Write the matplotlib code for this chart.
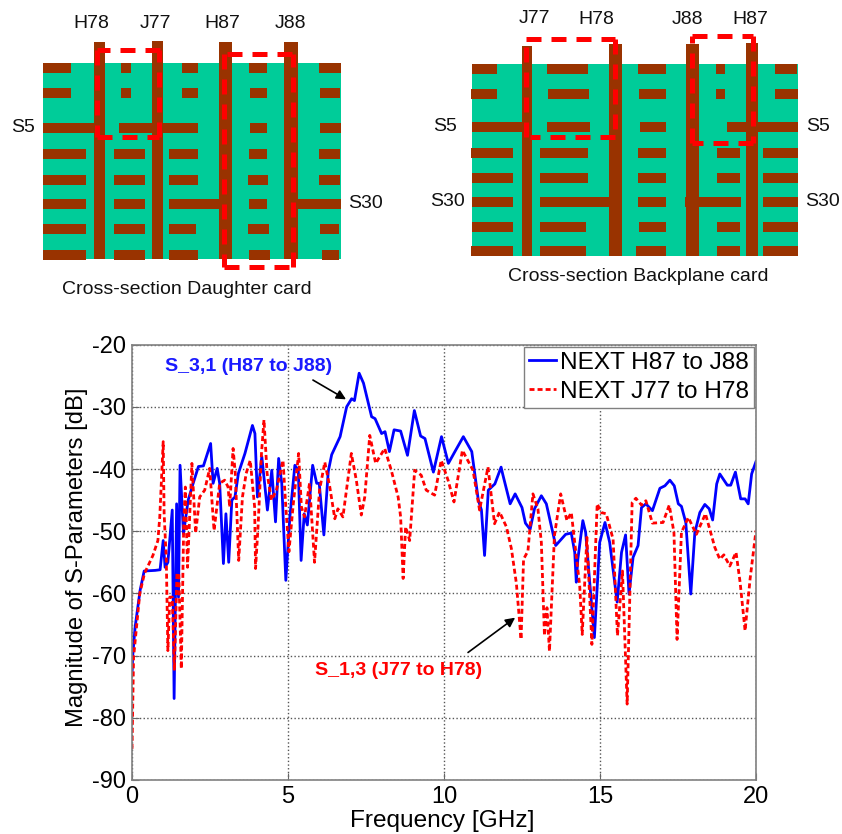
#!/usr/bin/env python
# -*- coding: utf-8 -*-

import matplotlib
matplotlib.use('Agg')
import matplotlib.pyplot as plt
from matplotlib.patches import Rectangle

plt.rcParams['font.family'] = ['Liberation Sans', 'DejaVu Sans']
plt.rcParams['axes.unicode_minus'] = False

W, H = 842, 834
GREEN = '#00cc99'
BROWN = '#993300'
RED = '#ff0000'

# traces: (GHz, dB)
h87_j88_f = [0.0, 0.02, 0.1, 0.26, 0.39, 0.74, 0.9, 1.0, 1.06, 1.15, 1.29, 1.35, 1.43, 1.49, 1.54,
             1.65, 1.8, 1.96, 2.13, 2.29, 2.52, 2.6, 2.73, 2.81, 2.93, 3.01, 3.1, 3.2, 3.3, 3.41,
             3.62, 3.86, 3.94, 4.02, 4.16, 4.34, 4.48, 4.6, 4.7, 4.8, 4.93, 5.06, 5.22, 5.33, 5.42,
             5.52, 5.62, 5.79, 5.92, 6.0, 6.15, 6.29, 6.4, 6.67, 6.88, 7.04, 7.13, 7.28, 7.42,
             7.68, 7.79, 8.0, 8.11, 8.25, 8.4, 8.61, 8.83, 9.05, 9.25, 9.39, 9.66, 9.92, 10.14,
             10.35, 10.62, 10.89, 11.1, 11.2, 11.3, 11.42, 11.63, 11.83, 11.88, 12.12, 12.28, 12.5,
             12.61, 12.76, 12.9, 13.12, 13.28, 13.58, 13.9, 14.08, 14.19, 14.24, 14.29, 14.45,
             14.54, 14.67, 14.82, 14.94, 14.99, 15.16, 15.31, 15.55, 15.69, 15.82, 15.93, 16.06,
             16.22, 16.33, 16.47, 16.68, 16.92, 17.08, 17.24, 17.38, 17.51, 17.61, 17.75, 17.91,
             18.04, 18.2, 18.36, 18.5, 18.61, 18.74, 18.84, 19.08, 19.19, 19.34, 19.51, 19.65,
             19.75, 19.86, 20.0]
h87_j88_db = [-73, -70.2, -65.4, -59.5, -56.4, -56.3, -56.2, -51.5, -55.8, -55, -46.6, -76.9, -45.6,
              -60.6, -39.4, -50.4, -45, -42.3, -39.6, -39.5, -35.9, -42.3, -39.9, -42.3, -55.2,
              -47.2, -55, -45, -44.5, -40.7, -37.5, -33, -34.3, -44.5, -38, -46.6, -40.2, -48.5,
              -38.3, -42.3, -57.9, -47.7, -39.4, -40.2, -54.7, -47.2, -49, -39.4, -42.3, -42.3,
              -50.6, -40.4, -37.7, -34.8, -30, -28.7, -29, -24.6, -26.2, -31.6, -31.9, -34.3, -34,
              -37.2, -33.7, -33.9, -37.8, -30.6, -34.7, -35.1, -40.5, -34.8, -39.1, -37.2, -34.8,
              -37.2, -45, -46.6, -53.9, -43.4, -42.4, -39.7, -40.8, -45.6, -44, -46.2, -48.7,
              -49.7, -46.4, -44.3, -45.6, -52.3, -50.5, -50.3, -53.4, -58.2, -54.5, -48.3, -50.2,
              -58.2, -67.1, -56.1, -51.8, -48.6, -51.8, -61.4, -53.4, -50.6, -60.1, -54.2, -52.3,
              -46.2, -45.6, -46.7, -43.1, -42.7, -41.8, -42.7, -45.6, -46, -48.6, -60.1, -50.2,
              -47, -45.7, -46.4, -48.2, -42.4, -40.8, -42.6, -42.6, -40.5, -44.8, -44.8, -45.6,
              -40.8, -38.8]

j77_h78_f = [0.0, 0.05, 0.25, 0.4, 0.67, 0.83, 0.89, 1.0, 1.03, 1.1, 1.15, 1.21, 1.29, 1.36, 1.44,
             1.5, 1.58, 1.66, 1.71, 1.78, 1.92, 2.04, 2.17, 2.33, 2.49, 2.63, 2.81, 2.97, 3.08,
             3.13, 3.24, 3.31, 3.42, 3.54, 3.66, 3.79, 3.93, 3.96, 4.04, 4.15, 4.23, 4.33, 4.47,
             4.63, 4.84, 4.93, 5.03, 5.16, 5.34, 5.43, 5.53, 5.69, 5.85, 6.01, 6.18, 6.34, 6.5,
             6.6, 6.76, 7.03, 7.19, 7.35, 7.46, 7.62, 7.81, 8.1, 8.31, 8.53, 8.61, 8.69, 8.77,
             8.9, 9.06, 9.27, 9.43, 9.7, 9.91, 10.13, 10.32, 10.59, 10.93, 11.14, 11.41, 11.62,
             11.78, 12.0, 12.16, 12.32, 12.47, 12.55, 12.69, 12.85, 13.01, 13.12, 13.22, 13.3,
             13.38, 13.54, 13.74, 13.94, 14.08, 14.35, 14.43, 14.58, 14.74, 14.91, 15.04, 15.2,
             15.42, 15.56, 15.72, 15.87, 16.03, 16.15, 16.33, 16.47, 16.68, 17.02, 17.22, 17.37,
             17.47, 17.61, 17.83, 18.09, 18.38, 18.68, 18.84, 18.97, 19.16, 19.36, 19.49, 19.65,
             19.81, 20.0]
j77_h78_db = [-85, -70.3, -60, -56.8, -53.9, -51.5, -47.7, -35.6, -47.2, -54.7, -69.2, -60.6, -60.6,
              -72.4, -56.8, -56.8, -72.1, -48.2, -42.9, -55.8, -39.1, -50.3, -44.5, -43.4, -39.9,
              -49.9, -42.3, -41.8, -42.9, -46.1, -36.7, -40.7, -54.7, -44.5, -40.7, -38.6, -46.1,
              -56, -49.3, -37.5, -32.1, -40.7, -45, -43.4, -38.6, -46.1, -53.3, -46.1, -37.5,
              -46.1, -47.7, -42.3, -55, -43.4, -38.9, -42.9, -48, -46.4, -47.7, -37.5, -41.8,
              -47.4, -44.5, -34.6, -39.1, -36.7, -40.2, -44.5, -47.7, -57.6, -49.3, -51.5, -40.2,
              -41, -43.4, -44.2, -38.6, -41.8, -45.3, -37, -40.2, -46.6, -39.7, -48.8, -46.9,
              -49.3, -52.8, -58.4, -67.4, -54.5, -53.2, -44, -46.4, -51.8, -66.8, -62.3, -69.3,
              -50.7, -44, -48.3, -47, -58.8, -66.6, -51, -68.2, -45.6, -47, -47.2, -51.3, -66.8,
              -56.4, -77.8, -45.4, -44.7, -45.8, -45.1, -48.7, -48.6, -45.8, -50.2, -67.4, -50.2,
              -47.8, -50.5, -47.2, -52.6, -54.5, -53.8, -55.6, -53.4, -58.2, -66, -57.7, -49.9]

# daughter card drawing, in 3x crop units
d_rows = [203, 280, 384, 461, 540, 613, 686, 764]
d_segs = [[(130, 212), (363, 393), (545, 594), (747, 802), (957, 1022)],
          [(130, 212), (363, 393), (545, 594), (749, 802), (960, 1020)],
          [(130, 285), (358, 594), (749, 802), (960, 1022)],
          [(130, 257), (342, 436), (508, 594), (747, 802), (957, 1020)],
          [(130, 257), (342, 436), (508, 594), (745, 805), (957, 1020)],
          [(130, 257), (342, 436), (508, 660), (747, 800), (890, 1022)],
          [(128, 257), (342, 436), (508, 588), (743, 807), (960, 1018)],
          [(128, 257), (342, 436), (508, 594), (747, 810), (965, 1017)]]
d_vias = [(281, 316, 127), (455, 490, 124), (658, 696, 127), (853, 893, 127)]
d_loops = [[(480, 150), (290, 150), (290, 410), (478, 410), (478, 150)],
           [(875, 162), (673, 162), (673, 800), (880, 800), (880, 162)]]
d_labels = [('H78', 275, 70), ('J77', 465, 70), ('H87', 667, 70), ('J88', 870, 70),
            ('S5', 68, 382), ('S30', 1097, 612), ('Cross-section Daughter card', 560, 870)]

# backplane card drawing
b_rows = [207, 282, 382, 458, 535, 605, 681, 753]
b_segs = [[(155, 232), (381, 504), (654, 738), (887, 916), (1065, 1131)],
          [(153, 232), (384, 507), (657, 738), (887, 916), (1065, 1133)],
          [(155, 310), (381, 510), (659, 738), (921, 1133)],
          [(153, 279), (360, 504), (654, 738), (890, 960), (1029, 1133)],
          [(155, 279), (360, 504), (654, 738), (890, 960), (1029, 1133)],
          [(155, 279), (360, 570), (654, 738), (795, 963), (1029, 1133)],
          [(155, 279), (360, 499), (657, 738), (890, 960), (1029, 1133)],
          [(153, 279), (360, 499), (648, 738), (890, 960), (1029, 1133)]]
b_vias = [(305, 337, 138), (567, 606, 133), (798, 837, 133), (978, 1013, 128)]
b_loops = [[(318, 410), (318, 117), (585, 117), (585, 410), (330, 410)],
           [(817, 430), (817, 108), (1000, 108), (1000, 430), (817, 430)]]
b_labels = [('J77', 343, 55), ('H78', 530, 60), ('J88', 803, 60), ('H87', 990, 60),
            ('S5', 75, 380), ('S5', 1193, 380), ('S30', 82, 605), ('S30', 1207, 605),
            ('Cross-section Backplane card', 655, 830)]


def draw_card(ax, box, rows, segs, vias, loops, labels):
    ax.add_patch(Rectangle((box[0], box[2]), box[1] - box[0], box[3] - box[2], fc=GREEN, ec='none'))
    for y, row in zip(rows, segs):
        for x0, x1 in row:
            ax.add_patch(Rectangle((x0, y - 15), x1 - x0, 30, fc=BROWN, ec='none'))
    for x0, x1, top in vias:
        ax.add_patch(Rectangle((x0, top), x1 - x0, box[3] - top, fc=BROWN, ec='none'))
    for loop in loops:
        # each side on its own, so the dash pattern restarts at the corners
        for p, q in zip(loop[:-1], loop[1:]):
            ax.plot([p[0], q[0]], [p[1], q[1]], color=RED, lw=3.6, dashes=(3.0, 2.0),
                    dash_capstyle='butt', zorder=5)
    for s, x, y in labels:
        ax.text(x, y, s, fontsize=14, color='#111111', ha='center', va='center')


fig = plt.figure(figsize=(W / 100, H / 100), dpi=100)

ax_d = fig.add_axes([0, 1 - 310 / H, 420 / W, 310 / H])
ax_d.set_xlim(0, 1260)
ax_d.set_ylim(930, 0)
ax_d.axis('off')
draw_card(ax_d, (130, 1022, 188, 778), d_rows, d_segs, d_vias, d_loops, d_labels)

ax_b = fig.add_axes([420 / W, 1 - 310 / H, 422 / W, 310 / H])
ax_b.set_xlim(0, 1266)
ax_b.set_ylim(930, 0)
ax_b.axis('off')
draw_card(ax_b, (155, 1133, 192, 768), b_rows, b_segs, b_vias, b_loops, b_labels)

ax = fig.add_axes([132 / W, 1 - 780 / H, 624 / W, 435.4 / H])
ax.plot(h87_j88_f, h87_j88_db, color='#0000ff', lw=2.0, solid_joinstyle='round', label='NEXT H87 to J88')
ax.plot(j77_h78_f, j77_h78_db, color=RED, lw=2.0, dashes=(1.8, 1.1), label='NEXT J77 to H78')
ax.set_xlim(0, 20)
ax.set_ylim(-90, -20)
ax.set_xticks([0, 5, 10, 15, 20])
ax.set_yticks(range(-90, -10, 10))
ax.grid(True, color='#555555', ls=':', lw=1.0)
ax.set_axisbelow(True)
ax.tick_params(direction='in', length=5, width=0.8, color='#666666', labelsize=17, pad=4)
for s in ax.spines.values():
    s.set_color('#808080')
    s.set_linewidth(1.2)
ax.set_xlabel('Frequency [GHz]', fontsize=17.6)
ax.xaxis.set_label_coords(0.497, -0.07)
ax.set_ylabel('Magnitude of S-Parameters [dB]', fontsize=17.1)
ax.yaxis.set_label_coords(-0.0705, 0.512)

ax.legend(loc='upper right', fontsize=17.6, fancybox=False, framealpha=1, edgecolor='#808080',
          borderaxespad=0.1, borderpad=0.2, labelspacing=0.28, handlelength=1.1, handletextpad=0.15)

ax.text(3.72, -23.6, 'S_3,1 (H87 to J88)', color='#1a1aff', fontsize=14, fontweight='bold',
        ha='center', va='center')
ax.text(8.53, -72.4, 'S_1,3 (J77 to H78)', color=RED, fontsize=14, fontweight='bold',
        ha='center', va='center')
ax.annotate('', xy=(6.86, -28.8), xytext=(5.8, -25.7),
            arrowprops=dict(arrowstyle='-|>', color='black', lw=1.2, mutation_scale=14, shrinkA=0, shrinkB=0))
ax.annotate('', xy=(12.28, -63.9), xytext=(10.77, -69.5),
            arrowprops=dict(arrowstyle='-|>', color='black', lw=1.2, mutation_scale=14, shrinkA=0, shrinkB=0))

fig.savefig('out.png', dpi=100)
